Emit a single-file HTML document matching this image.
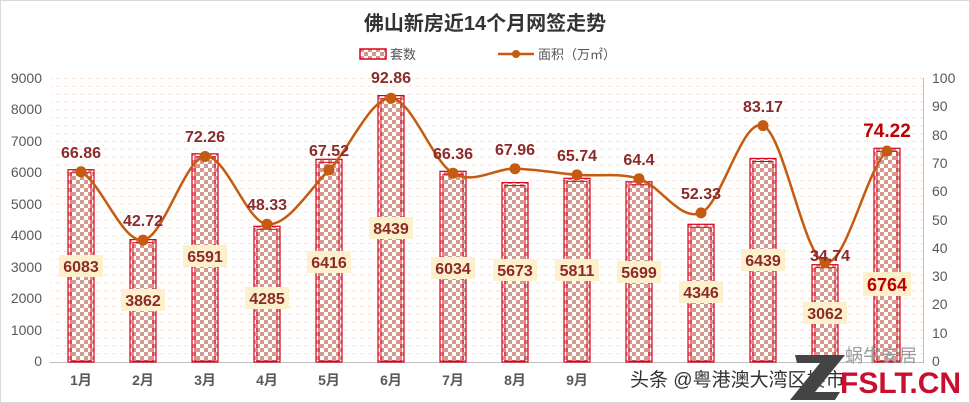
<!DOCTYPE html>
<html><head><meta charset="utf-8"><style>
html,body{margin:0;padding:0;background:#fff}
svg{display:block}
text{font-family:"Liberation Sans","Noto Sans CJK SC",sans-serif}
</style></head><body>
<svg width="970" height="403" viewBox="0 0 970 403" xmlns="http://www.w3.org/2000/svg">
<defs>
<pattern id="chk" width="8" height="8" patternUnits="userSpaceOnUse">
<rect width="8" height="8" fill="#fff"/>
<rect width="4" height="4" fill="#d4988c"/>
<rect x="4" y="4" width="4" height="4" fill="#d4988c"/>
</pattern>
<pattern id="grid" width="8" height="7.86" patternUnits="userSpaceOnUse" y="78">
<line x1="0" y1="0.5" x2="4" y2="0.5" stroke="#fbe3d3" stroke-width="1"/>
</pattern>
</defs>
<rect x="0.5" y="0.5" width="969" height="402" fill="#fff" stroke="#d9d9d9"/>
<text x="485" y="30" text-anchor="middle" font-size="20" font-weight="bold" fill="#333">佛山新房近14个月网签走势</text>
<rect x="360" y="49" width="26" height="10" fill="url(#chk)" stroke="#e00020" stroke-width="1.5"/>
<text x="390" y="59" font-size="13" fill="#555">套数</text>
<line x1="498" y1="54" x2="534" y2="54" stroke="#c55a11" stroke-width="2.5"/>
<circle cx="516" cy="54" r="4" fill="#c55a11"/>
<text x="538" y="59" font-size="13" fill="#555">面积（万㎡）</text>
<rect x="50" y="78" width="873" height="283" fill="url(#grid)"/>
<g font-size="14" fill="#595959" text-anchor="end">
<text x="42" y="83">9000</text><text x="42" y="114">8000</text><text x="42" y="146">7000</text><text x="42" y="177">6000</text><text x="42" y="209">5000</text><text x="42" y="240">4000</text><text x="42" y="272">3000</text><text x="42" y="303">2000</text><text x="42" y="335">1000</text><text x="42" y="366">0</text>
</g>
<g font-size="14" fill="#595959">
<text x="932" y="83">100</text><text x="932" y="111">90</text><text x="932" y="140">80</text><text x="932" y="168">70</text><text x="932" y="196">60</text><text x="932" y="225">50</text><text x="932" y="253">40</text><text x="932" y="281">30</text><text x="932" y="309">20</text><text x="932" y="338">10</text><text x="932" y="366">0</text>
</g>
<line x1="923.5" y1="78" x2="923.5" y2="362" stroke="#bfbfbf"/>
<line x1="50" y1="362.5" x2="924" y2="362.5" stroke="#bfbfbf"/>
<g fill="url(#chk)" stroke="#d8001c" stroke-width="1.2">
<rect x="68" y="169.7" width="26" height="192.3"/><rect x="130" y="239.6" width="26" height="122.4"/><rect x="192" y="153.8" width="26" height="208.2"/><rect x="254" y="226.3" width="26" height="135.7"/><rect x="316" y="159.3" width="26" height="202.7"/><rect x="378" y="95.6" width="26" height="266.4"/><rect x="440" y="171.3" width="26" height="190.7"/><rect x="502" y="182.6" width="26" height="179.4"/><rect x="564" y="178.3" width="26" height="183.7"/><rect x="626" y="181.8" width="26" height="180.2"/><rect x="688" y="224.3" width="26" height="137.7"/><rect x="750" y="158.5" width="26" height="203.5"/><rect x="812" y="264.7" width="26" height="97.3"/><rect x="874" y="148.3" width="26" height="213.7"/>
</g>
<g fill="none" stroke="#d8001c" stroke-width="1">
<rect x="71" y="172.7" width="20" height="188.3"/><rect x="133" y="242.6" width="20" height="118.4"/><rect x="195" y="156.8" width="20" height="204.2"/><rect x="257" y="229.3" width="20" height="131.7"/><rect x="319" y="162.3" width="20" height="198.7"/><rect x="381" y="98.6" width="20" height="262.4"/><rect x="443" y="174.3" width="20" height="186.7"/><rect x="505" y="185.6" width="20" height="175.4"/><rect x="567" y="181.3" width="20" height="179.7"/><rect x="629" y="184.8" width="20" height="176.2"/><rect x="691" y="227.3" width="20" height="133.7"/><rect x="753" y="161.5" width="20" height="199.5"/><rect x="815" y="267.7" width="20" height="93.3"/><rect x="877" y="151.3" width="20" height="209.7"/>
</g>
<path d="M81,171.8 C101.7,183.2 122.3,242.7 143,240.1 C163.7,237.5 184.3,159.2 205,156.5 C225.7,153.9 246.3,222.0 267,224.2 C287.7,226.4 308.3,190.9 329,169.9 C349.7,148.9 370.3,97.65 391,98.2 C411.7,98.75 432.3,161.45 453,173.2 C473.7,184.95 494.3,168.4 515,168.7 C535.7,169.0 556.3,173.2 577,174.9 C597.7,176.6 618.3,172.4 639,178.7 C659.7,185.0 680.3,221.75 701,212.9 C721.7,204.05 742.3,117.3 763,125.6 C783.7,133.9 804.3,258.5 825,262.7 C845.7,266.9 866.3,169.6 887,151.0" fill="none" stroke="#c55a11" stroke-width="2.5"/>
<g fill="#c55a11">
<circle cx="81" cy="171.8" r="5.5"/><circle cx="143" cy="240.1" r="5.5"/><circle cx="205" cy="156.5" r="5.5"/><circle cx="267" cy="224.2" r="5.5"/><circle cx="329" cy="169.9" r="5.5"/><circle cx="391" cy="98.2" r="5.5"/><circle cx="453" cy="173.2" r="5.5"/><circle cx="515" cy="168.7" r="5.5"/><circle cx="577" cy="174.9" r="5.5"/><circle cx="639" cy="178.7" r="5.5"/><circle cx="701" cy="212.9" r="5.5"/><circle cx="763" cy="125.6" r="5.5"/><circle cx="825" cy="262.7" r="5.5"/><circle cx="887" cy="151.0" r="5.5"/>
</g>
<g font-size="16" font-weight="bold" fill="#8b2a2a" text-anchor="middle">
<text x="81" y="158">66.86</text><text x="143" y="226">42.72</text><text x="205" y="142">72.26</text><text x="267" y="210">48.33</text><text x="329" y="156">67.52</text><text x="391" y="83">92.86</text><text x="453" y="159">66.36</text><text x="515" y="155">67.96</text><text x="577" y="161">65.74</text><text x="639" y="165">64.4</text><text x="701" y="199">52.33</text><text x="763" y="112">83.17</text><text x="830" y="261">34.74</text>
<text x="887" y="137" font-size="19" fill="#c00000">74.22</text>
</g>
<g fill="#fdf0cc">
<rect x="59" y="255" width="44" height="22"/><rect x="121" y="289" width="44" height="22"/><rect x="183" y="245" width="44" height="22"/><rect x="245" y="287" width="44" height="22"/><rect x="307" y="251" width="44" height="22"/><rect x="369" y="217" width="44" height="22"/><rect x="431" y="257" width="44" height="22"/><rect x="493" y="259" width="44" height="22"/><rect x="555" y="259" width="44" height="22"/><rect x="617" y="261" width="44" height="22"/><rect x="679" y="281" width="44" height="22"/><rect x="741" y="249" width="44" height="22"/><rect x="803" y="302" width="44" height="22"/><rect x="863" y="272" width="48" height="24"/>
</g>
<g font-size="16" font-weight="bold" fill="#8b2a2a" text-anchor="middle">
<text x="81" y="272">6083</text><text x="143" y="306">3862</text><text x="205" y="262">6591</text><text x="267" y="304">4285</text><text x="329" y="268">6416</text><text x="391" y="234">8439</text><text x="453" y="274">6034</text><text x="515" y="276">5673</text><text x="577" y="276">5811</text><text x="639" y="278">5699</text><text x="701" y="298">4346</text><text x="763" y="266">6439</text><text x="825" y="319">3062</text>
<text x="887" y="291" font-size="18" fill="#c00000">6764</text>
</g>
<g font-size="14" font-weight="bold" fill="#595959" text-anchor="middle">
<text x="81" y="385">1月</text><text x="143" y="385">2月</text><text x="205" y="385">3月</text><text x="267" y="385">4月</text><text x="329" y="385">5月</text><text x="391" y="385">6月</text><text x="453" y="385">7月</text><text x="515" y="385">8月</text><text x="577" y="385">9月</text>
</g>
<text x="845" y="362" font-size="18" fill="#9a9a9a">蜗牛安居</text>
<text x="630" y="386" font-size="19" fill="#333">头条 @粤港澳大湾区楼市</text>
<polygon points="795,355 845,355 815,392 840,392 835,400 790,400 820,363 797,363" fill="#444"/>
<text x="840" y="393" font-size="30" font-weight="bold" fill="#c8102e">FSLT.CN</text>
</svg>
</body></html>
